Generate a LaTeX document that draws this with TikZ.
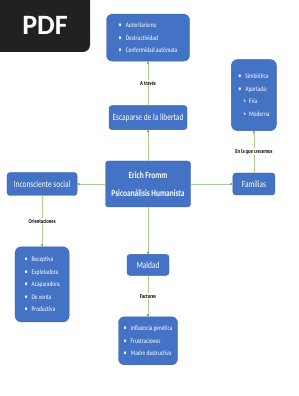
\documentclass[tikz,border=0pt]{standalone}
\usepackage{fontspec}
\setmainfont{Carlito}
\newfontfamily\narrowfont[FakeStretch=0.78]{Carlito}
\usepackage{tikz}
\usetikzlibrary{arrows.meta, positioning}

\definecolor{boxblue}{HTML}{4472C4}
\definecolor{boxedge}{HTML}{3A62AA}
\definecolor{linegreen}{HTML}{A9D18E}
\definecolor{tipgray}{HTML}{6F7F66}

\newcommand{\itm}{{\fontsize{8}{8}\selectfont\textbullet}\hspace{4pt}}
\newcommand{\subitm}{\hspace{5pt}\textbf{>}\hspace{3pt}}

\begin{document}
\begin{tikzpicture}[x=1pt, y=1pt,
    box/.style={rectangle, rounded corners=3pt, draw=boxedge, fill=boxblue, text=white,
                align=center, inner sep=1pt, font=\narrowfont\fontsize{9.5}{11}\selectfont},
    listbox/.style={box, rounded corners=6pt, align=left,
                font=\narrowfont\fontsize{7}{12.4}\selectfont},
    tag/.style={fill=white, inner sep=1pt, font=\narrowfont\bfseries\fontsize{6}{7}\selectfont},
    arrow/.style={-{Stealth[length=2.5pt, width=2.5pt, color=tipgray]}, draw=linegreen, line width=0.6pt}
]
    \useasboundingbox (0,0) rectangle (298,396);
    % badge
    \fill[black!87] (0,396) -- (90,396) {[rounded corners=7pt] -- (90,344)} -- (0,344) -- cycle;
    \node[text=white, font=\bfseries\fontsize{28}{28}\selectfont] (pdf) at (45,371) {PDF};

    \node[box, minimum width=85pt, minimum height=46pt, font=\narrowfont\bfseries\fontsize{9.5}{18}\selectfont]
        (fromm) at (148,212) {Erich Fromm\\Psicoanálisis Humanista};
    \node[box, minimum width=78pt, minimum height=24pt, above=31pt of fromm] (esc) {Escaparse de la libertad};
    \node[listbox, minimum width=83pt, minimum height=47pt, above=44pt of esc] (escape)
        {\itm Autoritarismo\\ \itm Destructividad\\ \itm Conformidad autómata};
    \node[box, minimum width=42pt, minimum height=22pt, right=42pt of fromm] (fam) {Familias};
    \node[listbox, minimum width=45pt, minimum height=71pt, above=42pt of fam] (tipos)
        {\itm Simbiótica\\ \itm Apartada:\\ \subitm Fría\\ \subitm Moderna};
    \node[box, minimum width=70pt, minimum height=23pt, left=28pt of fromm] (incons) {Inconsciente social};
    \node[listbox, minimum width=54pt, minimum height=75pt, below=51pt of incons] (orient)
        {\itm Receptiva\\ \itm Explotadora\\ \itm Acaparadora\\ \itm De venta\\ \itm Productiva};
    \node[box, minimum width=42pt, minimum height=21pt, below=47pt of fromm] (mal) {Maldad};
    \node[listbox, minimum width=59pt, minimum height=48pt, below=41pt of mal] (fact)
        {\itm Influencia genética\\ \itm Frustraciones\\ \itm Madre destructiva};

    \draw[arrow] (fromm) -- (esc);
    \draw[arrow] (esc) -- node[tag]{A través} (escape);
    \draw[arrow] (fromm) -- (fam);
    \draw[arrow] (fam) -- node[tag]{En la que crecemos} (tipos);
    \draw[arrow] (fromm) -- (incons);
    \draw[arrow] (incons) -- node[tag]{Orientaciones} (orient);
    \draw[arrow] (fromm) -- (mal);
    \draw[arrow] (mal) -- node[tag]{Factores} (fact);
\end{tikzpicture}
\end{document}
